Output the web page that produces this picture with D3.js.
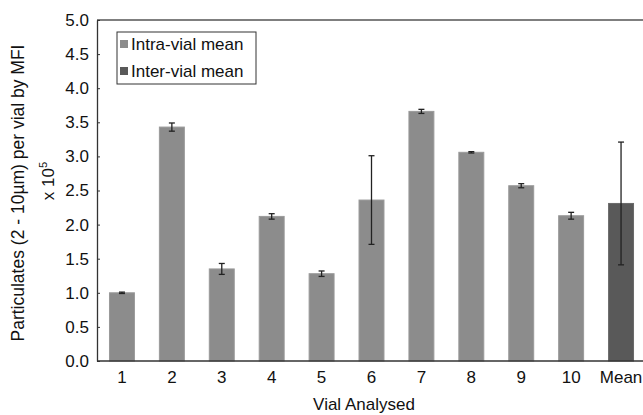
<!DOCTYPE html>
<html>
<head>
<meta charset="utf-8">
<script src="https://cdn.jsdelivr.net/npm/d3@7"></script>
<style>
  body { margin: 0; background: #fff; }
  text { font-family: "Liberation Sans", Arial, sans-serif; fill: #111; }
</style>
</head>
<body>
<div id="chart"></div>
<script>
// values (x 10^5)
const vials = ["1", "2", "3", "4", "5", "6", "7", "8", "9", "10", "Mean"];
const means = [1.00, 3.43, 1.35, 2.12, 1.28, 2.36, 3.66, 3.06, 2.57, 2.13, 2.31];
const errors = [0.01, 0.06, 0.08, 0.04, 0.04, 0.65, 0.03, 0.01, 0.03, 0.05, 0.90];
const yTicks = [0, 0.5, 1, 1.5, 2, 2.5, 3, 3.5, 4, 4.5, 5];
const legendNames = ["Intra-vial mean", "Inter-vial mean"];

const width = 643, height = 415;
const margin = {top: 20, right: -3, bottom: 54, left: 97};

const colour = d3.scaleOrdinal().domain(legendNames).range(["#8c8c8c", "#595959"]);

const svg = d3.select("#chart").append("svg")
  .attr("width", width)
  .attr("height", height);

const x = d3.scaleBand()
  .domain(vials)
  .range([margin.left, width - margin.right])
  .paddingInner(0.5)
  .paddingOuter(0.25);

const y = d3.scaleLinear()
  .domain([0, 5])
  .range([height - margin.bottom, margin.top]);

// top frame line
svg.append("line")
  .attr("x1", margin.left).attr("x2", width)
  .attr("y1", y(5)).attr("y2", y(5))
  .attr("stroke", "#555").attr("stroke-width", 1.3);

// bars
const data = vials.map((v, i) => ({name: v, value: means[i], err: errors[i]}));

svg.append("g").selectAll("rect")
  .data(data)
  .enter().append("rect")
  .attr("x", d => x(d.name))
  .attr("width", x.bandwidth())
  .attr("y", d => y(d.value))
  .attr("height", d => y(0) - y(d.value))
  .attr("fill", d => d.name === "Mean" ? colour(legendNames[1]) : colour(legendNames[0]))
  .attr("stroke", d => d.name === "Mean" ? "#6a6a6a" : "#9a9a9a")
  .attr("stroke-width", 1);

// error bars
const eb = svg.append("g").selectAll("g")
  .data(data)
  .enter().append("g")
  .attr("stroke", "#222")
  .attr("stroke-width", 1.3);

eb.append("line")
  .attr("x1", d => x(d.name) + x.bandwidth() / 2)
  .attr("x2", d => x(d.name) + x.bandwidth() / 2)
  .attr("y1", d => y(d.value - d.err))
  .attr("y2", d => y(d.value + d.err));
eb.append("line")
  .attr("x1", d => x(d.name) + x.bandwidth() / 2 - 3)
  .attr("x2", d => x(d.name) + x.bandwidth() / 2 + 3)
  .attr("y1", d => y(d.value + d.err))
  .attr("y2", d => y(d.value + d.err));
eb.append("line")
  .attr("x1", d => x(d.name) + x.bandwidth() / 2 - 3)
  .attr("x2", d => x(d.name) + x.bandwidth() / 2 + 3)
  .attr("y1", d => y(d.value - d.err))
  .attr("y2", d => y(d.value - d.err));

// y axis, ticks pointing inward
const yAxis = svg.append("g")
  .attr("transform", `translate(${margin.left},0)`)
  .call(d3.axisLeft(y).tickValues(yTicks).tickFormat(d3.format(".1f")).tickSizeInner(-3).tickSizeOuter(0).tickPadding(8));
yAxis.select(".domain").attr("stroke", "#333").attr("stroke-width", 1.3);
yAxis.selectAll(".tick line").attr("stroke", "#333");
yAxis.selectAll(".tick text").attr("font-size", "17px").attr("fill", "#111");

// x axis, no ticks
const xAxis = svg.append("g")
  .attr("transform", `translate(0,${y(0)})`)
  .call(d3.axisBottom(x).tickSize(0).tickPadding(10));
xAxis.select(".domain").attr("stroke", "#333").attr("stroke-width", 1.3)
  .attr("d", `M${margin.left},0H${width}`);
xAxis.selectAll(".tick text").attr("font-size", "17px").attr("fill", "#111");

// axis titles
svg.append("text")
  .attr("transform", `translate(24,193) rotate(-90)`)
  .attr("text-anchor", "middle")
  .attr("font-size", "17.5px")
  .text("Particulates (2 - 10µm) per vial by MFI");

const unit = svg.append("text")
  .attr("transform", `translate(54,181) rotate(-90)`)
  .attr("text-anchor", "middle")
  .attr("font-size", "17px");
unit.append("tspan").text("x 10");
unit.append("tspan").attr("font-size", "11px").attr("dy", "-7").text("5");

svg.append("text")
  .attr("x", 364)
  .attr("y", 410)
  .attr("text-anchor", "middle")
  .attr("font-size", "17px")
  .text("Vial Analysed");

// legend
const legend = svg.append("g").attr("transform", "translate(117,32)");
legend.append("rect")
  .attr("width", 139).attr("height", 52)
  .attr("fill", "#fff").attr("stroke", "#333").attr("stroke-width", 1);

const item = legend.selectAll(".legendItem")
  .data(legendNames)
  .enter().append("g")
  .attr("class", "legendItem")
  .attr("transform", (d, i) => `translate(0,${12 + i * 27})`);
item.append("rect")
  .attr("x", 3).attr("y", -4)
  .attr("width", 8).attr("height", 8)
  .attr("fill", d => colour(d));
item.append("text")
  .attr("x", 14).attr("y", 6)
  .attr("font-size", "17px")
  .text(d => d);
</script>
</body>
</html>
